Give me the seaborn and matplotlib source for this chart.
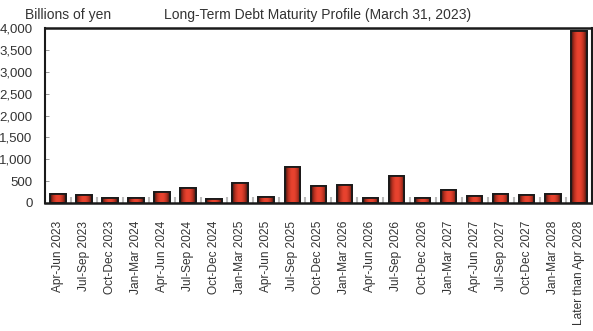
import numpy as np
import pandas as pd
import matplotlib
matplotlib.use("Agg")
import matplotlib.pyplot as plt
import seaborn as sns
from matplotlib.colors import LinearSegmentedColormap

periods = ["Apr-Jun 2023", "Jul-Sep 2023", "Oct-Dec 2023", "Jan-Mar 2024",
           "Apr-Jun 2024", "Jul-Sep 2024", "Oct-Dec 2024", "Jan-Mar 2025",
           "Apr-Jun 2025", "Jul-Sep 2025", "Oct-Dec 2025", "Jan-Mar 2026",
           "Apr-Jun 2026", "Jul-Sep 2026", "Oct-Dec 2026", "Jan-Mar 2027",
           "Apr-Jun 2027", "Jul-Sep 2027", "Oct-Dec 2027", "Jan-Mar 2028",
           "Later than Apr 2028"]
amounts = [200, 180, 120, 120, 240, 330, 80, 460, 140, 820, 390, 420,
           110, 620, 110, 290, 150, 200, 180, 200, 3930]
yticks = [0, 500, 1000, 1500, 2000, 2500, 3000, 3500, 4000]

sns.set_theme(style="white")
plt.rcParams['font.family'] = ['Liberation Sans', 'DejaVu Sans']

df = pd.DataFrame({"period": periods, "amount": amounts})

fig = plt.figure(figsize=(5.93, 3.31), dpi=100)
ax = fig.add_axes([0.0759, 0.387, 0.922, 0.528])

sns.barplot(data=df, x="period", y="amount", color="#e8432f", width=0.6,
            edgecolor="#1a1a1a", linewidth=1.3, saturation=1, ax=ax)

# gradient shading inside bars (dark edges, bright red centre)
cmap = LinearSegmentedColormap.from_list("bar", ["#3a1510", "#b8301f", "#e8432f", "#e8432f", "#b8301f", "#3a1510"])
xs = np.linspace(0, 1, 64)
grad = np.tile(xs, (2, 1))
for p in list(ax.patches):
    x0, y0 = p.get_x(), p.get_y()
    w, h = p.get_width(), p.get_height()
    im = ax.imshow(grad, cmap=cmap, aspect="auto", extent=[x0, x0 + w, y0, y0 + h],
                   zorder=p.get_zorder() + 0.1, interpolation="bicubic")
    im.set_clip_path(p)
    p2 = plt.Rectangle((x0, y0), w, h, fill=False, edgecolor="#1a1a1a", linewidth=1.3,
                       zorder=p.get_zorder() + 0.2)
    ax.add_patch(p2)

ax.set_xlim(-0.5, len(periods) - 0.5)
ax.set_ylim(0, 4000)
ax.set_yticks(yticks)
ax.set_yticklabels([f"{v:,}" for v in yticks], fontsize=9.5, color="#333333")
ax.set_xticks(range(len(periods)))
ax.set_xticklabels(periods, rotation=90, fontsize=8.6, color="#333333")
ax.set_xlabel("")
ax.set_ylabel("")

ax.tick_params(axis="y", direction="in", length=3, width=0.6, color="#888888", left=True, pad=9)
ax.tick_params(axis="x", which="major", bottom=False, pad=7)
ax.set_xticks(np.arange(0.5, len(periods) - 1, 1.0), minor=True)
ax.tick_params(axis="x", which="minor", direction="in", length=4, width=1.5,
               color="#bbbbbb", bottom=True)

for s in ["left", "bottom", "top", "right"]:
    ax.spines[s].set_visible(True)
    ax.spines[s].set_color("#1a1a1a")
ax.spines["left"].set_linewidth(1.5)
ax.spines["bottom"].set_linewidth(1.8)
ax.spines["top"].set_linewidth(1.8)
ax.spines["right"].set_linewidth(1.5)

fig.text(0.042, 0.975, "Billions of yen", fontsize=10, ha="left", va="top", color="#333333")
fig.text(0.535, 0.975, "Long-Term Debt Maturity Profile (March 31, 2023)", fontsize=10,
         ha="center", va="top", color="#333333")

fig.savefig("out.png", dpi=100)
